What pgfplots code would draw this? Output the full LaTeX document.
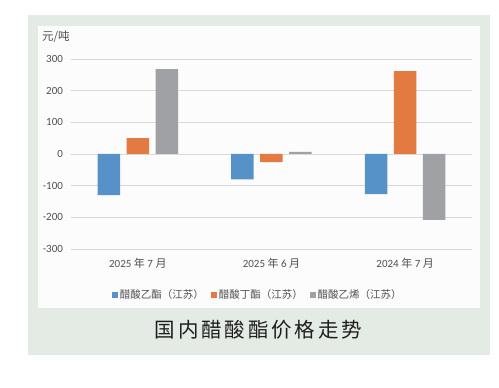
\documentclass[border=0pt]{standalone}
\usepackage{pgfplots}
\pgfplotsset{compat=1.18}
\usepackage{fontspec}
\setmainfont{Carlito}
\newfontfamily\cjk{Noto Sans CJK SC}
\newfontfamily\capfont{Noto Sans CJK SC}[LetterSpace=14]
\definecolor{cblue}{RGB}{86,146,200}
\definecolor{corange}{RGB}{226,122,66}
\definecolor{cgray}{RGB}{160,161,164}
\definecolor{bggreen}{RGB}{228,234,228}
\definecolor{panel}{RGB}{252,252,252}
\definecolor{gridc}{RGB}{217,217,217}
\definecolor{txt}{RGB}{80,80,80}
\begin{document}
\begin{tikzpicture}
\fill[white] (0pt,0pt) rectangle (499pt,388pt);
\fill[bggreen] (28pt,33pt) rectangle (490pt,373pt);
\fill[panel] (38pt,80pt) rectangle (480pt,362pt);
\begin{axis}[
  at={(71pt,139pt)}, anchor=south west,
  scale only axis, width=401pt, height=190pt,
  xmin=-0.5, xmax=2.5, ymin=-300, ymax=300,
  ybar=6.5pt, bar width=22.5pt,
  xtick={0,1,2},
  xticklabels={{2025 {\cjk 年} 7 {\cjk 月}},{2025 {\cjk 年} 6 {\cjk 月}},{2024 {\cjk 年} 7 {\cjk 月}}},
  ytick={-300,-200,-100,0,100,200,300},
  yticklabels={-300,-200,-100,0,100,200,300},
  ymajorgrids, grid style={gridc, line width=0.9pt},
  axis line style={draw=none},
  major tick length=0pt,
  tick label style={font=\fontsize{11}{13}\selectfont, text=txt},
  xticklabel style={yshift=-6pt},
  yticklabel style={xshift=-4.5pt},
  legend columns=3,
  legend style={at={(0.466,-0.242)}, anchor=center, draw=none, fill=none,
    font=\fontsize{10.5}{12}\selectfont\cjk, text=txt,
    /tikz/every even column/.append style={column sep=5pt},
    inner sep=0pt},
  legend image code/.code={\fill[#1] (0pt,-2.9pt) rectangle (5.8pt,2.9pt);},
  clip=false,
]
\addplot[fill=cblue, draw=none] coordinates {(0,-130) (1,-80) (2,-127)};
\addplot[fill=corange, draw=none] coordinates {(0,50) (1,-26) (2,262)};
\addplot[fill=cgray, draw=none] coordinates {(0,268) (1,7) (2,-208)};
\legend{醋酸乙酯（江苏）,醋酸丁酯（江苏）,醋酸乙烯（江苏）}
\end{axis}
\node[anchor=west, text=txt, font=\fontsize{11.5}{13}\selectfont\cjk, inner sep=0pt] at (42pt,351pt) {元/吨};
\node[text={rgb,255:red,30;green,30;blue,30}, font=\fontsize{20.5}{24}\selectfont\capfont] at (258.5pt,58pt) {国内醋酸酯价格走势};
\end{tikzpicture}
\end{document}
